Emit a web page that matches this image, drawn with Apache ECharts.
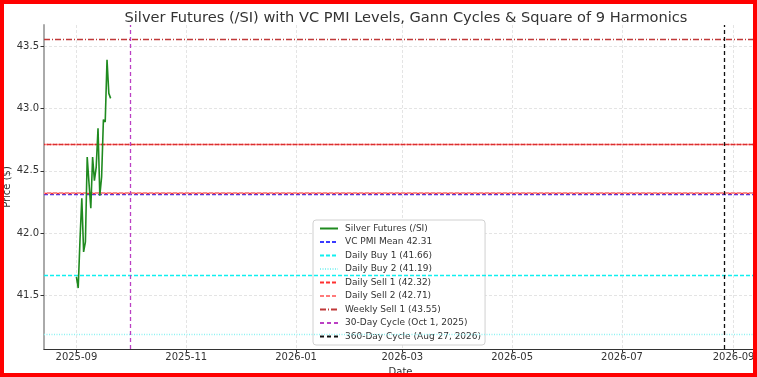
<!DOCTYPE html>
<html>
<head>
<meta charset="utf-8">
<script src="https://cdn.jsdelivr.net/npm/echarts@6/dist/echarts.min.js"></script>
<style>
html, body { margin: 0; padding: 0; background: #fff; }
#chart { width: 757px; height: 377px; }
#frame { position: absolute; left: 0; top: 0; width: 757px; height: 377px; box-sizing: border-box; border: 4px solid #ff0000; pointer-events: none; }
</style>
</head>
<body>
<div id="chart"></div>
<div id="frame"></div>
<script>
// price data
const dates = ['2025-09-01','2025-09-02','2025-09-03','2025-09-04','2025-09-05','2025-09-06','2025-09-07',
  '2025-09-08','2025-09-09','2025-09-10','2025-09-11','2025-09-12','2025-09-13','2025-09-14','2025-09-15',
  '2025-09-16','2025-09-17','2025-09-18','2025-09-19','2025-09-20']
const prices = [41.65, 41.56, 41.95, 42.28, 41.85, 41.93, 42.61, 42.40, 42.20, 42.61, 42.42, 42.53, 42.84,
  42.30, 42.45, 42.91, 42.89, 43.39, 43.12, 43.08]

const levelNames = ['VC PMI Mean 42.31', 'Daily Buy 1 (41.66)', 'Daily Buy 2 (41.19)',
  'Daily Sell 1 (42.32)', 'Daily Sell 2 (42.71)', 'Weekly Sell 1 (43.55)']
const levelValues = [42.31, 41.66, 41.19, 42.32, 42.71, 43.55]

// square of 9 harmonic lines (no legend entry)
const harmonicValues = [42.32, 42.71]

const cycleNames = ['30-Day Cycle (Oct 1, 2025)', '360-Day Cycle (Aug 27, 2026)']
const cycleDates = ['2025-10-01', '2026-08-27']

const xTicks = ['2025-09-01','2025-11-01','2026-01-01','2026-03-01','2026-05-01','2026-07-01','2026-09-01']
const yTicks = [41.5, 42.0, 42.5, 43.0, 43.5]

// styles
const levelStyles = [
  { color: '#3a3aff', type: [4, 2] },
  { color: '#10f0f0', type: [4, 2] },
  { color: '#8ef2f2', type: [1, 1.5] },
  { color: '#ff3030', type: [4, 2] },
  { color: '#ff7a7a', type: [4, 2] },
  { color: '#c03838', type: [6, 2, 1, 2] }
]
const harmonicStyles = [
  { color: '#f39090', type: [4, 2], width: 2 },
  { color: '#d83030', type: [4, 2], width: 1.3 }
]
const cycleStyles = [
  { color: '#bb40c4', type: [4, 3] },
  { color: '#111111', type: [4, 3] }
]

const toTime = s => echarts.time.parse(s).getTime()

const series = [{
  name: 'Silver Futures (/SI)',
  type: 'line',
  data: dates.map((d, i) => [toTime(d), prices[i]]),
  symbol: 'none',
  lineStyle: { color: '#1f8a1f', width: 1.6 },
  itemStyle: { color: '#1f8a1f' },
  z: 5
}]

levelNames.forEach((name, i) => {
  const st = levelStyles[i]
  series.push({
    name: name,
    type: 'line',
    data: [],
    symbol: 'none',
    lineStyle: { color: st.color, type: st.type, width: 1.3 },
    itemStyle: { color: st.color },
    markLine: {
      silent: true,
      symbol: 'none',
      label: { show: false },
      animation: false,
      lineStyle: { color: st.color, type: st.type, width: 1.3 },
      data: [{ yAxis: levelValues[i] }]
    }
  })
})

harmonicValues.forEach((v, i) => {
  const st = harmonicStyles[i]
  series.push({
    name: 'harmonic' + i,
    type: 'line',
    data: [],
    z: 1,
    markLine: {
      silent: true,
      symbol: 'none',
      label: { show: false },
      animation: false,
      lineStyle: { color: st.color, type: st.type, dashOffset: 3, width: st.width },
      data: [{ yAxis: v }]
    }
  })
})

cycleNames.forEach((name, i) => {
  const st = cycleStyles[i]
  series.push({
    name: name,
    type: 'line',
    data: [],
    symbol: 'none',
    lineStyle: { color: st.color, type: st.type, width: 1.3 },
    itemStyle: { color: st.color },
    markLine: {
      silent: true,
      symbol: 'none',
      label: { show: false },
      animation: false,
      lineStyle: { color: st.color, type: st.type, width: 1.3 },
      data: [{ xAxis: toTime(cycleDates[i]) }]
    }
  })
})

const chart = echarts.init(document.getElementById('chart'))
chart.setOption({
  animation: false,
  textStyle: { fontFamily: 'DejaVu Sans' },
  title: {
    text: 'Silver Futures (/SI) with VC PMI Levels, Gann Cycles & Square of 9 Harmonics',
    left: 401,
    textAlign: 'center',
    top: 6,
    textStyle: { fontSize: 14.6, fontWeight: 'normal', color: '#333', fontFamily: 'DejaVu Sans' }
  },
  legend: {
    orient: 'vertical',
    left: 313,
    top: 220,
    backgroundColor: '#fff',
    borderColor: '#d0d0d0',
    borderWidth: 1,
    borderRadius: 3,
    padding: [3, 4, 3, 6],
    itemWidth: 18,
    itemHeight: 8,
    itemGap: 2.5,
    itemStyle: { opacity: 0 },
    textStyle: { fontSize: 9, lineHeight: 11, color: '#333', fontFamily: 'DejaVu Sans', padding: [0, 0, 0, 2] },
    data: [series[0].name].concat(levelNames, cycleNames)
  },
  grid: { left: 44, right: 0, top: 25, bottom: 28, outerBoundsMode: 'none', containLabel: false },
  xAxis: {
    type: 'value',
    min: toTime('2025-08-14'),
    max: toTime('2026-09-14'),
    name: 'Date',
    nameLocation: 'middle',
    nameGap: 18,
    nameMoveOverlap: false,
    nameTextStyle: { fontSize: 10, color: '#333' },
    axisLine: { lineStyle: { color: '#333', width: 1.2 } },
    axisTick: { show: true, length: 3.5, lineStyle: { color: '#333' }, customValues: xTicks.map(toTime) },
    axisLabel: {
      fontSize: 10, color: '#333', margin: 3,
      customValues: xTicks.map(toTime),
      formatter: v => echarts.time.format(v, '{yyyy}-{MM}', false)
    },
    splitLine: { show: true, lineStyle: { color: '#dddddd', type: [3, 2], width: 0.8 } }
  },
  yAxis: {
    type: 'value',
    min: 41.072,
    max: 43.668,
    name: 'Price ($)',
    nameLocation: 'middle',
    nameGap: 32,
    nameMoveOverlap: false,
    nameTextStyle: { fontSize: 10, color: '#333' },
    axisLine: { show: true, lineStyle: { color: '#aaaaaa', width: 2 } },
    axisTick: { show: true, length: 3.5, lineStyle: { color: '#333' }, customValues: yTicks },
    axisLabel: {
      fontSize: 10, color: '#333', margin: 5,
      customValues: yTicks,
      formatter: v => v.toFixed(1)
    },
    splitLine: { show: true, lineStyle: { color: '#dddddd', type: [3, 2], width: 0.8 } }
  },
  series: series
})
</script>
</body>
</html>
